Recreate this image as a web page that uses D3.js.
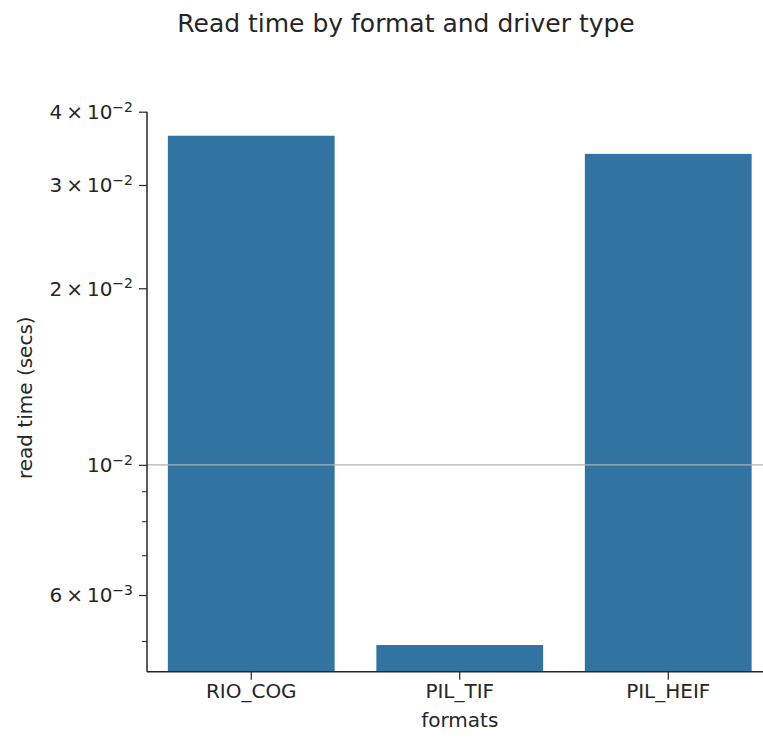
<!DOCTYPE html>
<html>
<head>
<meta charset="utf-8">
<script src="https://cdn.jsdelivr.net/npm/d3@7"></script>
<style>
  body { margin: 0; background: #fff; }
  text { font-family: "DejaVu Sans", sans-serif; fill: #262626; }
</style>
</head>
<body>
<svg id="chart" width="763" height="738"></svg>
<script>
// data
const formats = ['RIO_COG', 'PIL_TIF', 'PIL_HEIF'];
const readTimes = [0.0364, 0.00493, 0.0339];

// log axis ticks
const majorTicks = [0.04, 0.03, 0.02, 0.01, 0.006];
const minorTicks = [0.009, 0.008, 0.007, 0.005];
const yDomain = [0.00444, 0.04];

const svg = d3.select('#chart');
const margin = { left: 147, top: 111.7, bottom: 671.7 };
const step = 208.5;

const xScale = d3.scaleBand()
	.domain(formats)
	.range([margin.left, margin.left + step * formats.length])
	.paddingInner(0.2)
	.paddingOuter(0.1);

const yScale = d3.scaleLog()
	.domain(yDomain)
	.range([margin.bottom, margin.top]);

//Title
svg.append('text')
	.attr('x', 406)
	.attr('y', 32)
	.attr('text-anchor', 'middle')
	.style('font-size', '25px')
	.text('Read time by format and driver type');

//Bars
svg.append('g').selectAll('rect')
	.data(formats)
	.enter().append('rect')
		.attr('x', d => xScale(d))
		.attr('width', xScale.bandwidth())
		.attr('y', (d, i) => yScale(readTimes[i]))
		.attr('height', (d, i) => margin.bottom - yScale(readTimes[i]))
		.attr('fill', '#3274a1');

//Gridline at the decade
svg.append('g').selectAll('line')
	.data([0.01])
	.enter().append('line')
		.attr('x1', margin.left)
		.attr('x2', 763)
		.attr('y1', d => yScale(d))
		.attr('y2', d => yScale(d))
		.attr('stroke', '#b0b0b0')
		.attr('stroke-width', 1.2);

//Y axis (major ticks)
const yAxisG = svg.append('g')
	.attr('transform', `translate(${margin.left},0)`)
	.call(d3.axisLeft(yScale)
		.tickValues(majorTicks)
		.tickSize(8)
		.tickFormat(''));
yAxisG.select('.domain')
	.attr('d', `M0,${margin.top}V${margin.bottom}`)
	.attr('stroke', '#262626')
	.attr('stroke-width', 1.5);
yAxisG.selectAll('.tick line').attr('stroke', '#262626').attr('stroke-width', 1.2);

//Mathtext-like labels: "4 × 10⁻²"
yAxisG.selectAll('.tick text')
	.style('font-size', '20px')
	.attr('x', -14)
	.attr('dy', '0.35em')
	.each(function(d) {
		const exp = Math.floor(Math.log10(d) + 1e-9);
		const mant = Math.round(d / Math.pow(10, exp));
		const t = d3.select(this).text(null);
		if (mant !== 1) t.append('tspan').text(mant + '\u2009\u00d7\u2009');
		t.append('tspan').text('10');
		t.append('tspan')
			.attr('dy', '-0.55em')
			.style('font-size', '14px')
			.text('\u2212' + Math.abs(exp));
	});

//Y axis (minor ticks)
svg.append('g')
	.attr('transform', `translate(${margin.left},0)`)
	.selectAll('line')
	.data(minorTicks)
	.enter().append('line')
		.attr('x1', -5)
		.attr('x2', 0)
		.attr('y1', d => yScale(d))
		.attr('y2', d => yScale(d))
		.attr('stroke', '#262626')
		.attr('stroke-width', 1);

//X axis
const xAxisG = svg.append('g')
	.attr('transform', `translate(0,${margin.bottom})`)
	.call(d3.axisBottom(xScale)
		.tickSize(8)
		.tickPadding(4));
xAxisG.select('.domain')
	.attr('d', `M${margin.left},0H763`)
	.attr('stroke', '#262626')
	.attr('stroke-width', 1.5);
xAxisG.selectAll('.tick line').attr('stroke', '#262626').attr('stroke-width', 1.2);
xAxisG.selectAll('.tick text')
	.style('font-size', '20px')
	.style('fill', '#262626');

//Axis labels
svg.append('text')
	.attr('x', xScale('PIL_TIF') + xScale.bandwidth() / 2)
	.attr('y', 727)
	.attr('text-anchor', 'middle')
	.style('font-size', '20px')
	.text('formats');

svg.append('text')
	.attr('transform', `translate(32,${(margin.top + margin.bottom) / 2 + 6}) rotate(-90)`)
	.attr('text-anchor', 'middle')
	.style('font-size', '20px')
	.text('read time (secs)');
</script>
</body>
</html>
